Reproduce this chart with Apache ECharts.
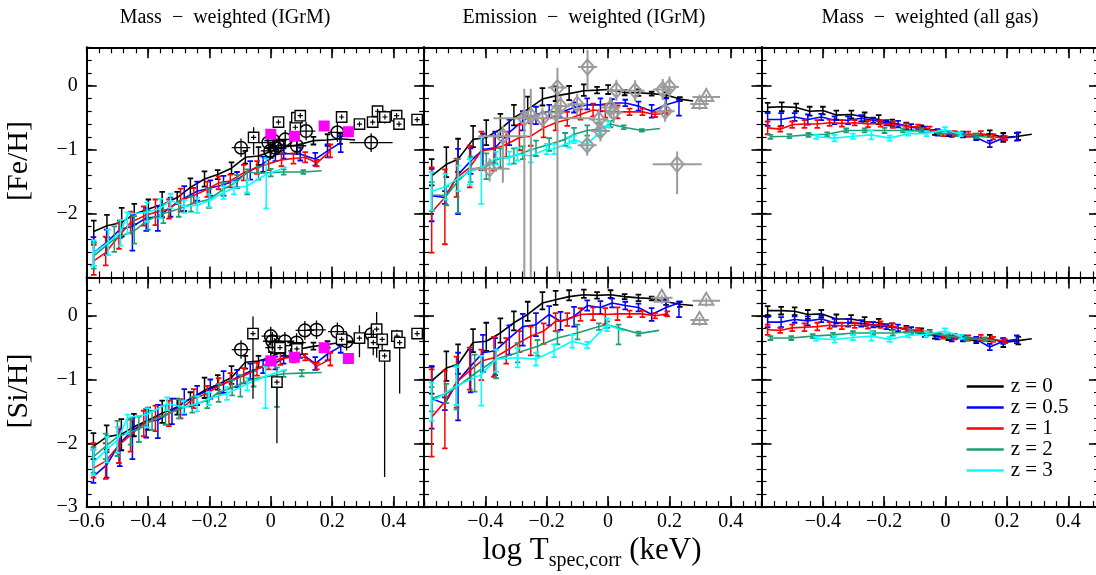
<!DOCTYPE html>
<html><head><meta charset="utf-8">
<script src="https://cdn.jsdelivr.net/npm/echarts@6/dist/echarts.min.js"></script>
<style>html,body{margin:0;padding:0;background:#fff}#c{width:1096px;height:575px}</style>
</head><body><div id="c"></div>
<script>
// ---------------- DATA ----------------
// rows: [log T, value, err_down, err_up]
const feMassZ0 = [[-0.577,-2.28,0.17,0.17],[-0.534,-2.19,0.18,0.17],[-0.486,-2.14,0.22,0.23],[-0.445,-2.01,0.16,0.16],[-0.399,-1.93,0.15,0.15],[-0.354,-1.86,0.2,0.2],[-0.305,-1.75,0.1,0.09],[-0.262,-1.59,0.14,0.14],[-0.216,-1.46,0.12,0.12],[-0.173,-1.39,0.07,0.07],[-0.128,-1.29,0.09,0.09],[-0.083,-1.12,0.1,0.1],[-0.040,-1.10,0.14,0.14],[0.000,-1.03,0.1,0.1],[0.042,-0.96,0.1,0.1],[0.085,-0.93,0.1,0.1],[0.139,-0.86,0.06,0.06],[0.185,-0.85,0.09,0.09],[0.226,-0.83,0.08,0.08],[0.275,-0.85,0,0]];
const feMassZ05 = [[-0.578,-2.62,0.2,0.25],[-0.535,-2.45,0.2,0.2],[-0.492,-2.25,0.13,0.14],[-0.451,-2.2,0.38,0.19],[-0.406,-2.07,0.2,0.16],[-0.368,-2.05,0.22,0.17],[-0.327,-1.9,0.15,0.15],[-0.282,-1.76,0.2,0.19],[-0.24,-1.65,0.15,0.15],[-0.197,-1.6,0.12,0.12],[-0.154,-1.55,0.17,0.14],[-0.11,-1.47,0.12,0.12],[-0.067,-1.33,0.14,0.15],[-0.025,-1.22,0.13,0.11],[0.015,-1.08,0.1,0.1],[0.042,-1.06,0.08,0.08],[0.096,-1.07,0.1,0.1],[0.145,-1.15,0.1,0.1],[0.185,-1.02,0.1,0.1],[0.228,-0.89,0.15,0.1]];
const feMassZ1 = [[-0.577,-2.74,0.22,0.25],[-0.538,-2.61,0.2,0.25],[-0.495,-2.35,0.2,0.2],[-0.457,-2.14,0.17,0.17],[-0.414,-2.04,0.15,0.15],[-0.376,-1.98,0.2,0.2],[-0.332,-1.93,0.15,0.15],[-0.294,-1.79,0.18,0.18],[-0.251,-1.72,0.12,0.12],[-0.207,-1.62,0.12,0.12],[-0.17,-1.52,0.1,0.1],[-0.132,-1.49,0.1,0.1],[-0.088,-1.36,0.12,0.12],[-0.045,-1.28,0.1,0.1],[-0.007,-1.22,0.1,0.1],[0.035,-1.16,0.1,0.1],[0.074,-1.14,0.08,0.08],[0.112,-1.12,0.08,0.08],[0.15,-1.21,0.05,0.05],[0.194,-1.02,0.1,0.1]];
const feMassZ2 = [[-0.577,-2.66,0.2,0.2],[-0.51,-2.4,0.2,0.2],[-0.445,-2.27,0.2,0.23],[-0.40,-2.1,0.15,0.15],[-0.35,-2.0,0.15,0.15],[-0.30,-1.93,0.12,0.12],[-0.26,-1.85,0.12,0.12],[-0.202,-1.78,0.13,0.16],[-0.154,-1.62,0.1,0.1],[-0.11,-1.5,0.1,0.1],[-0.077,-1.35,0.35,0.04],[-0.04,-1.37,0.1,0.1],[0.0,-1.36,0.06,0.06],[0.042,-1.35,0.04,0.04],[0.106,-1.35,0.03,0.03],[0.166,-1.33,0,0]];
const feMassZ3 = [[-0.577,-2.62,0.2,0.2],[-0.53,-2.45,0.2,0.2],[-0.49,-2.3,0.2,0.2],[-0.467,-2.01,0.3,0.03],[-0.403,-1.98,0.15,0.15],[-0.36,-1.92,0.15,0.15],[-0.327,-1.79,0.12,0.1],[-0.282,-1.89,0.1,0.1],[-0.24,-1.87,0.12,0.12],[-0.2,-1.8,0.1,0.1],[-0.154,-1.67,0.1,0.1],[-0.12,-1.6,0.1,0.1],[-0.077,-1.57,0.1,0.1],[-0.015,-1.39,0.53,0.25],[0.052,-1.27,0,0]];

const feEmisZ0 = [[-0.575,-1.41,0.15,0.26],[-0.527,-1.23,0.2,0.27],[-0.489,-1.15,0.2,0.32],[-0.44,-0.84,0.12,0.21],[-0.397,-0.81,0.12,0.27],[-0.351,-0.68,0.12,0.24],[-0.307,-0.5,0.12,0.2],[-0.262,-0.37,0.12,0.2],[-0.214,-0.21,0.1,0.17],[-0.171,-0.16,0.08,0.15],[-0.127,-0.125,0.1,0.12],[-0.079,-0.08,0.08,0.1],[-0.036,-0.07,0.05,0.05],[0.0,-0.06,0.07,0.07],[0.054,-0.11,0.04,0.04],[0.099,-0.11,0.05,0.05],[0.142,-0.125,0.03,0.03],[0.189,-0.146,0.04,0.04],[0.234,-0.21,0.03,0.03],[0.277,-0.24,0,0]];
const feEmisZ05 = [[-0.575,-1.72,0.4,0.42],[-0.532,-1.75,0.1,0.1],[-0.489,-1.39,0.62,0.4],[-0.448,-1.18,0.2,0.2],[-0.408,-1.0,0.3,0.25],[-0.368,-0.97,0.25,0.25],[-0.322,-0.73,0.2,0.2],[-0.278,-0.55,0.15,0.15],[-0.235,-0.45,0.15,0.12],[-0.192,-0.4,0.1,0.1],[-0.155,-0.42,0.08,0.1],[-0.111,-0.34,0.08,0.08],[-0.068,-0.3,0.07,0.1],[-0.025,-0.3,0.1,0.1],[0.013,-0.27,0.06,0.06],[0.056,-0.27,0.05,0.05],[0.099,-0.32,0.07,0.07],[0.142,-0.4,0.1,0.1],[0.189,-0.3,0.1,0.1],[0.231,-0.24,0.23,0.02]];
const feEmisZ1 = [[-0.575,-1.98,0.63,0.7],[-0.532,-1.75,0.73,0.44],[-0.494,-1.44,0.3,0.3],[-0.451,-1.28,0.31,0.34],[-0.413,-1.02,0.3,0.3],[-0.372,-0.99,0.34,0.2],[-0.332,-0.92,0.2,0.2],[-0.289,-0.81,0.2,0.2],[-0.252,-0.79,0.15,0.2],[-0.21,-0.66,0.15,0.15],[-0.171,-0.58,0.12,0.1],[-0.133,-0.53,0.1,0.12],[-0.09,-0.45,0.08,0.08],[-0.049,-0.38,0.1,0.1],[-0.009,-0.4,0.1,0.1],[0.031,-0.41,0.1,0.1],[0.07,-0.41,0.05,0.05],[0.112,-0.41,0.05,0.05],[0.153,-0.45,0.04,0.04],[0.193,-0.42,0.03,0.03]];
const feEmisZ2 = [[-0.575,-1.71,0.25,0.2],[-0.527,-1.72,0.15,0.15],[-0.489,-1.49,0.5,0.34],[-0.448,-1.31,0.2,0.2],[-0.397,-1.26,0.2,0.2],[-0.351,-1.13,0.15,0.15],[-0.307,-1.1,0.12,0.12],[-0.278,-1.05,0.1,0.1],[-0.235,-0.98,0.12,0.12],[-0.192,-0.92,0.1,0.1],[-0.14,-0.84,0.1,0.1],[-0.111,-0.76,0.1,0.1],[-0.068,-0.7,0.08,0.08],[-0.03,-0.68,0.1,0.1],[0.008,-0.6,0.05,0.05],[0.051,-0.65,0.03,0.03],[0.11,-0.7,0.02,0.02],[0.169,-0.67,0,0]];
const feEmisZ3 = [[-0.575,-1.65,0.3,0.3],[-0.53,-1.58,0.2,0.2],[-0.489,-1.45,0.2,0.2],[-0.451,-1.35,0.2,0.2],[-0.413,-1.28,0.57,0.47],[-0.365,-1.13,0.1,0.1],[-0.322,-1.13,0.1,0.1],[-0.295,-1.07,0.1,0.1],[-0.252,-1.1,0.1,0.1],[-0.2,-0.99,0.08,0.08],[-0.176,-0.99,0.08,0.08],[-0.127,-0.89,0.08,0.08],[-0.111,-0.84,0.06,0.06],[-0.068,-0.92,0.06,0.06],[-0.025,-0.71,0.05,0.05],[0.0,-0.6,0.05,0.05]];

// rows: [log T, value, err]
const feAllZ0 = [[-0.58,-0.34,0.07],[-0.534,-0.33,0.07],[-0.487,-0.34,0.06],[-0.443,-0.4,0.07],[-0.4,-0.39,0.06],[-0.356,-0.46,0.07],[-0.307,-0.45,0.06],[-0.264,-0.49,0.07],[-0.218,-0.53,0.07],[-0.174,-0.58,0.05],[-0.128,-0.63,0.05],[-0.079,-0.66,0.04],[-0.035,-0.73,0.04],[0.009,-0.75,0.04],[0.057,-0.76,0.04],[0.1,-0.79,0.04],[0.144,-0.75,0.05],[0.188,-0.81,0.07],[0.237,-0.79,0.06],[0.281,-0.76,0]];
const feAllZ05 = [[-0.58,-0.53,0.1],[-0.536,-0.53,0.1],[-0.492,-0.49,0.06],[-0.449,-0.53,0.08],[-0.405,-0.49,0.05],[-0.362,-0.54,0.06],[-0.318,-0.54,0.06],[-0.275,-0.51,0.05],[-0.236,-0.54,0.04],[-0.193,-0.58,0.04],[-0.155,-0.6,0.05],[-0.112,-0.65,0.05],[-0.068,-0.68,0.04],[-0.026,-0.73,0.05],[0.02,-0.76,0.04],[0.057,-0.77,0.04],[0.1,-0.81,0.04],[0.144,-0.91,0.05],[0.188,-0.82,0.04],[0.232,-0.8,0.06]];
const feAllZ1 = [[-0.58,-0.66,0.1],[-0.539,-0.68,0.04],[-0.5,-0.61,0.05],[-0.46,-0.6,0.06],[-0.418,-0.6,0.06],[-0.378,-0.58,0.05],[-0.338,-0.59,0.05],[-0.296,-0.58,0.04],[-0.253,-0.6,0.05],[-0.212,-0.59,0.05],[-0.172,-0.61,0.05],[-0.128,-0.63,0.04],[-0.09,-0.65,0.04],[-0.052,-0.68,0.04],[-0.008,-0.75,0.04],[0.03,-0.75,0.04],[0.074,-0.76,0.04],[0.115,-0.75,0.04],[0.155,-0.8,0.04],[0.194,-0.82,0.03]];
const feAllZ2 = [[-0.571,-0.8,0.03],[-0.509,-0.79,0.03],[-0.447,-0.77,0.03],[-0.386,-0.76,0.03],[-0.324,-0.7,0.03],[-0.264,-0.7,0.03],[-0.199,-0.7,0.04],[-0.139,-0.7,0.03],[-0.079,-0.71,0.03],[-0.019,-0.73,0.03],[0.041,-0.76,0.03],[0.1,-0.79,0.03],[0.155,-0.81,0]];
const feAllZ3 = [[-0.422,-0.8,0.03],[-0.362,-0.82,0.05],[-0.302,-0.79,0.04],[-0.242,-0.77,0.07],[-0.182,-0.82,0.04],[-0.122,-0.75,0.03],[-0.062,-0.75,0.04],[-0.002,-0.69,0.04],[0.05,-0.76,0.03]];

const siMassZ0 = [[-0.578,-2.05,0.2,0.21],[-0.535,-1.9,0.2,0.18],[-0.487,-1.86,0.25,0.24],[-0.446,-1.74,0.15,0.2],[-0.4,-1.64,0.15,0.2],[-0.354,-1.53,0.15,0.2],[-0.305,-1.43,0.12,0.13],[-0.262,-1.3,0.12,0.1],[-0.216,-1.17,0.12,0.2],[-0.173,-1.08,0.08,0.15],[-0.128,-0.97,0.1,0.18],[-0.083,-0.73,0.1,0.1],[-0.04,-0.71,0.1,0.08],[0.0,-0.65,0.08,0.08],[0.042,-0.55,0.08,0.08],[0.085,-0.53,0.08,0.08],[0.139,-0.48,0.05,0.06],[0.185,-0.45,0.05,0.05],[0.226,-0.42,0.05,0.05],[0.275,-0.42,0,0]];
const siMassZ05 = [[-0.578,-2.52,0.1,0.42],[-0.535,-2.34,0.2,0.2],[-0.492,-2.0,0.36,0.23],[-0.451,-1.8,0.45,0.2],[-0.406,-1.66,0.25,0.2],[-0.368,-1.64,0.28,0.24],[-0.322,-1.5,0.2,0.2],[-0.282,-1.35,0.2,0.2],[-0.24,-1.25,0.15,0.15],[-0.197,-1.15,0.15,0.15],[-0.154,-1.07,0.14,0.2],[-0.11,-0.97,0.15,0.12],[-0.067,-0.87,0.12,0.12],[-0.025,-0.8,0.1,0.1],[0.015,-0.74,0.1,0.1],[0.042,-0.67,0.08,0.08],[0.096,-0.58,0.08,0.08],[0.145,-0.75,0.1,0.1],[0.185,-0.6,0.1,0.1],[0.228,-0.48,0.1,0.1]];
const siMassZ1 = [[-0.578,-2.39,0.15,0.39],[-0.538,-2.28,0.28,0.28],[-0.495,-2.03,0.28,0.28],[-0.457,-1.87,0.26,0.24],[-0.414,-1.69,0.2,0.2],[-0.376,-1.61,0.2,0.2],[-0.332,-1.53,0.2,0.2],[-0.294,-1.46,0.15,0.15],[-0.251,-1.3,0.15,0.15],[-0.207,-1.22,0.12,0.12],[-0.17,-1.1,0.12,0.12],[-0.132,-1.02,0.12,0.12],[-0.088,-0.94,0.12,0.12],[-0.045,-0.84,0.1,0.1],[-0.007,-0.74,0.1,0.1],[0.031,-0.67,0.1,0.1],[0.074,-0.65,0.08,0.08],[0.112,-0.65,0.05,0.05],[0.15,-0.79,0.05,0.05],[0.194,-0.68,0.1,0.1]];
const siMassZ2 = [[-0.578,-2.21,0.25,0.15],[-0.538,-2.05,0.2,0.2],[-0.5,-1.9,0.3,0.25],[-0.457,-1.82,0.2,0.2],[-0.43,-1.78,0.2,0.2],[-0.387,-1.64,0.15,0.15],[-0.343,-1.56,0.15,0.15],[-0.3,-1.46,0.15,0.15],[-0.256,-1.4,0.12,0.12],[-0.207,-1.33,0.12,0.12],[-0.17,-1.2,0.15,0.13],[-0.126,-1.13,0.12,0.12],[-0.099,-1.07,0.2,0.14],[-0.056,-0.99,0.12,0.12],[0.02,-0.93,0.5,0.12],[0.042,-0.91,0.05,0.05],[0.101,-0.9,0.05,0.05],[0.166,-0.89,0,0]];
const siMassZ3 = [[-0.578,-2.3,0.2,0.2],[-0.535,-2.1,0.2,0.2],[-0.5,-1.95,0.2,0.2],[-0.467,-1.6,0.25,0.05],[-0.403,-1.55,0.2,0.1],[-0.338,-1.38,0.1,0.1],[-0.284,-1.43,0.1,0.1],[-0.24,-1.38,0.12,0.12],[-0.202,-1.3,0.1,0.1],[-0.143,-1.22,0.1,0.1],[-0.077,-1.07,0.1,0.1],[-0.017,-0.95,0.5,0.15],[0.053,-0.84,0,0]];

const siEmisZ0 = [[-0.575,-1.02,0.2,0.23],[-0.527,-0.82,0.2,0.26],[-0.489,-0.76,0.15,0.31],[-0.44,-0.42,0.15,0.21],[-0.397,-0.4,0.15,0.29],[-0.351,-0.27,0.15,0.23],[-0.307,-0.11,0.12,0.18],[-0.262,0.02,0.1,0.2],[-0.214,0.2,0.1,0.17],[-0.171,0.25,0.08,0.14],[-0.127,0.3,0.06,0.1],[-0.079,0.33,0.05,0.08],[-0.036,0.32,0.05,0.05],[0.008,0.33,0.05,0.07],[0.054,0.3,0.04,0.04],[0.099,0.28,0.05,0.05],[0.142,0.27,0.03,0.03],[0.189,0.22,0.05,0.05],[0.234,0.18,0.04,0.04],[0.277,0.16,0,0]];
const siEmisZ05 = [[-0.575,-1.3,0.47,0.5],[-0.532,-1.38,0.1,0.1],[-0.489,-1.02,0.62,0.44],[-0.448,-0.79,0.41,0.26],[-0.408,-0.58,0.3,0.28],[-0.368,-0.55,0.38,0.2],[-0.322,-0.35,0.26,0.2],[-0.278,-0.17,0.3,0.2],[-0.235,-0.14,0.18,0.18],[-0.192,0.02,0.17,0.13],[-0.155,-0.09,0.13,0.15],[-0.111,-0.01,0.16,0.15],[-0.068,0.16,0.08,0.08],[-0.025,0.13,0.1,0.1],[0.013,0.2,0.07,0.07],[0.056,0.16,0.06,0.06],[0.099,0.13,0.06,0.06],[0.142,0.02,0.1,0.1],[0.189,0.13,0.12,0.12],[0.231,0.2,0.22,0.02]];
const siEmisZ1 = [[-0.575,-1.59,0.62,0.75],[-0.532,-1.35,0.73,0.49],[-0.494,-1.04,0.4,0.4],[-0.451,-0.86,0.3,0.36],[-0.413,-0.71,0.3,0.18],[-0.372,-0.66,0.3,0.33],[-0.332,-0.55,0.2,0.2],[-0.289,-0.42,0.15,0.18],[-0.252,-0.32,0.3,0.15],[-0.21,-0.24,0.2,0.12],[-0.171,-0.09,0.15,0.13],[-0.133,-0.06,0.1,0.1],[-0.09,0.02,0.1,0.1],[-0.049,0.03,0.1,0.1],[-0.009,0.02,0.15,0.1],[0.031,0.03,0.1,0.1],[0.07,0.03,0.05,0.05],[0.112,0.03,0.05,0.05],[0.153,0.0,0.04,0.04],[0.193,0.03,0.04,0.04]];
const siEmisZ2 = [[-0.575,-1.3,0.2,0.18],[-0.527,-1.22,0.15,0.15],[-0.494,-1.12,0.35,0.35],[-0.435,-0.91,0.28,0.3],[-0.365,-0.68,0.3,0.15],[-0.295,-0.58,0.15,0.15],[-0.23,-0.48,0.15,0.1],[-0.165,-0.35,0.1,0.1],[-0.1,-0.27,0.1,0.13],[-0.03,-0.17,0.05,0.05],[-0.003,-0.14,0.05,0.05],[0.034,-0.19,0.26,0.05],[0.099,-0.28,0.03,0.03],[0.166,-0.23,0,0]];
const siEmisZ3 = [[-0.575,-1.35,0.3,0.3],[-0.494,-1.1,0.3,0.3],[-0.413,-0.92,0.49,0.29],[-0.365,-0.68,0.2,0.15],[-0.295,-0.66,0.15,0.15],[-0.235,-0.68,0.1,0.1],[-0.176,-0.55,0.1,0.1],[-0.117,-0.4,0.1,0.1],[-0.068,-0.46,0.05,0.05],[-0.003,-0.14,0.1,0.1],[0.051,-0.24,0,0]];

const siAllZ0 = [[-0.58,0.08,0.07],[-0.536,0.08,0.06],[-0.492,0.07,0.06],[-0.449,0.02,0.07],[-0.405,0.03,0.06],[-0.356,-0.05,0.07],[-0.308,-0.05,0.06],[-0.264,-0.09,0.07],[-0.218,-0.11,0.06],[-0.175,-0.17,0.05],[-0.128,-0.21,0.05],[-0.079,-0.24,0.04],[-0.035,-0.32,0.04],[0.009,-0.34,0.04],[0.057,-0.36,0.04],[0.1,-0.39,0.04],[0.144,-0.35,0.05],[0.188,-0.42,0.07],[0.237,-0.39,0.06],[0.281,-0.36,0]];
const siAllZ05 = [[-0.58,-0.1,0.08],[-0.536,-0.1,0.08],[-0.492,-0.06,0.05],[-0.449,-0.08,0.07],[-0.405,-0.05,0.05],[-0.362,-0.11,0.06],[-0.318,-0.11,0.06],[-0.275,-0.12,0.05],[-0.236,-0.14,0.04],[-0.193,-0.17,0.04],[-0.155,-0.19,0.05],[-0.112,-0.23,0.05],[-0.068,-0.29,0.04],[-0.026,-0.32,0.05],[0.02,-0.36,0.04],[0.057,-0.35,0.04],[0.1,-0.37,0.04],[0.144,-0.49,0.05],[0.188,-0.4,0.04],[0.232,-0.37,0.06]];
const siAllZ1 = [[-0.58,-0.22,0.08],[-0.539,-0.23,0.04],[-0.5,-0.19,0.05],[-0.46,-0.18,0.06],[-0.418,-0.17,0.06],[-0.378,-0.15,0.05],[-0.338,-0.16,0.05],[-0.296,-0.15,0.04],[-0.253,-0.15,0.05],[-0.212,-0.14,0.05],[-0.172,-0.17,0.05],[-0.128,-0.22,0.04],[-0.09,-0.23,0.04],[-0.052,-0.26,0.04],[-0.008,-0.32,0.04],[0.03,-0.33,0.04],[0.074,-0.35,0.04],[0.115,-0.34,0.04],[0.155,-0.37,0.04],[0.194,-0.4,0.03]];
const siAllZ2 = [[-0.571,-0.35,0.03],[-0.503,-0.35,0.03],[-0.433,-0.32,0.03],[-0.367,-0.3,0.03],[-0.302,-0.27,0.03],[-0.236,-0.27,0.03],[-0.172,-0.27,0.04],[-0.112,-0.25,0.03],[-0.052,-0.27,0.03],[0.009,-0.32,0.03],[0.068,-0.36,0.03],[0.128,-0.37,0.03],[0.161,-0.4,0]];
const siAllZ3 = [[-0.422,-0.36,0.03],[-0.362,-0.37,0.05],[-0.302,-0.34,0.04],[-0.242,-0.32,0.07],[-0.182,-0.37,0.04],[-0.122,-0.31,0.03],[-0.062,-0.29,0.04],[-0.002,-0.24,0.04],[0.052,-0.33,0.03]];

// observations
// circles: [x, y, xerr, yerr]
const feObsCircles = [[-0.097,-0.97,0.03,0.13],[-0.008,-0.89,0.02,0.05],[0.009,-0.86,0.02,0.06],[0.025,-0.94,0.02,0.06],[0.047,-0.84,0.02,0.05],[-0.002,-1.02,0.02,0.06],[0.014,-0.97,0.02,0.05],[0.085,-0.94,0.02,0.05],[0.115,-0.71,0.02,0.05],[0.217,-0.73,0.02,0.05],[0.327,-0.89,0.07,0.13]];
const siObsCircles = [[-0.097,-0.53,0.03,0.1],[0.0,-0.32,0.02,0.1],[0.005,-0.4,0.02,0.1],[0.012,-0.5,0.02,0.08],[0.046,-0.4,0.03,0.08],[0.084,-0.42,0.02,0.1],[0.111,-0.23,0.03,0.06],[0.149,-0.22,0.03,0.06],[0.217,-0.25,0.02,0.08],[0.247,-0.4,0.02,0.08],[0.328,-0.29,0.02,0.12]];
// squares: [x, y, err_down, err_up]
const feObsSquares = [[-0.056,-0.81,0.27,0.16],[0.025,-0.57,0.04,0.04],[0.08,-0.65,0.04,0.04],[0.085,-0.5,0.04,0.04],[0.096,-0.47,0.04,0.04],[0.231,-0.49,0.05,0.05],[0.289,-0.6,0.06,0.06],[0.332,-0.57,0.06,0.06],[0.348,-0.4,0.06,0.06],[0.365,-0.49,0.08,0.08],[0.372,-0.49,0.1,0.1],[0.41,-0.47,0.04,0.04],[0.418,-0.6,0.08,0.08],[0.477,-0.53,0.04,0.04]];
const siObsSquares = [[-0.058,-0.28,1.02,0.27],[0.02,-1.04,0.96,0.1],[0.03,-0.5,0.1,0.1],[0.065,-0.55,0.1,0.1],[0.085,-0.52,0.1,0.1],[0.231,-0.37,0.1,0.1],[0.289,-0.35,0.3,0.2],[0.345,-0.21,0.45,0.27],[0.334,-0.42,0.2,0.2],[0.363,-0.37,0.3,0.1],[0.371,-0.63,1.9,0.1],[0.411,-0.32,0.1,0.1],[0.42,-0.42,0.8,0.1],[0.477,-0.28,0.05,0.05]];
// magenta squares: [x, y]
const feObsMagenta = [[0.0,-0.76],[0.077,-0.79],[0.174,-0.63],[0.253,-0.72]];
const siObsMagenta = [[0.0,-0.71],[0.077,-0.65],[0.174,-0.5],[0.253,-0.67]];
// diamonds: [x, y, xerr, err_down, err_up]
const feObsDiamonds = [[-0.386,-1.3,0.065,0.2,0.1],[-0.343,-0.79,0.08,0.73,0.16],[-0.273,-0.51,0.03,3,0.46],[-0.252,-0.47,0.03,3,0.42],[-0.214,-0.51,0.16,0.05,0.05],[-0.171,-0.42,0.02,0.05,0.05],[-0.165,-0.03,0.03,3,0.31],[-0.155,-0.32,0.03,0.05,0.05],[-0.101,-0.29,0.02,0.05,0.05],[-0.067,0.29,0.02,0.35,0.27],[-0.068,-0.93,0.02,0.12,0.12],[-0.03,-0.53,0.02,0.05,0.05],[-0.025,-0.71,0.02,0.05,0.05],[0.008,-0.34,0.02,0.1,0.05],[0.018,-0.42,0.02,0.15,0.05],[0.027,-0.07,0.02,0.05,0.05],[0.088,-0.08,0.02,0.05,0.05],[0.178,-0.06,0.02,0.05,0.05],[0.2,-0.02,0.02,0.05,0.05],[0.186,-0.4,0.02,0.05,0.05],[0.225,-1.23,0.08,0.47,0.2]];
// triangles: [x, y, xerr]
const feObsTriangles = [[0.298,-0.27,0.03],[0.32,-0.16,0.045]];
const siObsTriangles = [[0.175,0.3,0.035],[0.32,0.25,0.045],[0.298,-0.05,0.03]];

const X_TICK_LABELS = [-0.6,-0.4,-0.2,0,0.2,0.4];
const Y_TICK_LABELS = [-3,-2,-1,0];
const Z_NAMES = ['z = 0','z = 0.5','z = 1','z = 2','z = 3'];
const PANEL_TITLES = ['Mass  \u2212  weighted (IGrM)','Emission  \u2212  weighted (IGrM)','Mass  \u2212  weighted (all gas)'];

// ---------------- STYLE / LAYOUT ----------------
const Z_COLORS = ['#000000','#0000ff','#ff0000','#1b9e77','#00ffff'];
const GRAY = '#9b9b9b';
const F = '"Liberation Serif","DejaVu Serif",serif';
const X_MIN=-0.6, X_MAX=0.5, Y_MIN=-3, Y_MAX=0.6;
const COL_LEFT=[86.7,424,761.5], COL_W=337.5;
const ROW_TOP=[47.3,277.5], ROW_H=[230.2,229.5];

const panels = [
  {row:0,col:0,model:[feMassZ0,feMassZ05,feMassZ1,feMassZ2,feMassZ3],circles:feObsCircles,squares:feObsSquares,magenta:feObsMagenta},
  {row:0,col:1,model:[feEmisZ0,feEmisZ05,feEmisZ1,feEmisZ2,feEmisZ3],diamonds:feObsDiamonds,triangles:feObsTriangles},
  {row:0,col:2,model:[feAllZ0,feAllZ05,feAllZ1,feAllZ2,feAllZ3]},
  {row:1,col:0,model:[siMassZ0,siMassZ05,siMassZ1,siMassZ2,siMassZ3],circles:siObsCircles,squares:siObsSquares,magenta:siObsMagenta},
  {row:1,col:1,model:[siEmisZ0,siEmisZ05,siEmisZ1,siEmisZ2,siEmisZ3],triangles:siObsTriangles},
  {row:1,col:2,model:[siAllZ0,siAllZ05,siAllZ1,siAllZ2,siAllZ3]}
];

function cl(v){return Math.max(Y_MIN,Math.min(Y_MAX,v));}
function clx(v){return Math.max(X_MIN,Math.min(X_MAX,v));}
function seg(x1,y1,x2,y2,stroke,lw){return {type:'line',shape:{x1:x1,y1:y1,x2:x2,y2:y2},style:{stroke:stroke,lineWidth:lw}};}
function fmtNum(v){const r=Math.round(v*10)/10; if(Math.abs(r)<1e-9) return '0'; return (r<0?'\u2212':'')+(Number.isInteger(r)?Math.abs(r).toString():Math.abs(r).toFixed(1));}
function norm(rows){return rows.map(r=>r.length===3?[r[0],r[1],r[2],r[2]]:r);}

function errRender(color){
  return function(p,api){
    const x=api.value(0),y=api.value(1),dn=api.value(2),up=api.value(3);
    const ch=[];
    if(dn>0||up>0){
      const hv=y+up,lv=y-dn;
      const a=api.coord([x,cl(hv)]),b=api.coord([x,cl(lv)]);
      ch.push(seg(a[0],a[1],b[0],b[1],color,1.5));
      const w=2.8;
      if(hv<=Y_MAX) ch.push(seg(a[0]-w,a[1],a[0]+w,a[1],color,1.8));
      if(lv>=Y_MIN) ch.push(seg(b[0]-w,b[1],b[0]+w,b[1],color,1.8));
    }
    return {type:'group',children:ch};
  };
}
function circleRender(p,api){
  const x=api.value(0),y=api.value(1),xe=api.value(2),ye=api.value(3);
  const c=api.coord([x,y]),l=api.coord([clx(x-xe),y]),r=api.coord([clx(x+xe),y]),t=api.coord([x,cl(y+ye)]),b=api.coord([x,cl(y-ye)]);
  const R=6.3;
  const x1=Math.min(l[0],c[0]-R-3),x2=Math.max(r[0],c[0]+R+3),y1=Math.min(t[1],c[1]-R-3),y2=Math.max(b[1],c[1]+R+3);
  return {type:'group',children:[
    {type:'circle',shape:{cx:c[0],cy:c[1],r:R},style:{fill:'none',stroke:'#000',lineWidth:1.5}},
    seg(x1,c[1],x2,c[1],'#000',1.3),seg(c[0],y1,c[0],y2,'#000',1.3)]};
}
function squareRender(p,api){
  const x=api.value(0),y=api.value(1),dn=api.value(2),up=api.value(3);
  const c=api.coord([x,y]),t=api.coord([x,cl(y+up)]),b=api.coord([x,cl(y-dn)]);
  const h=5.2,ch=[
    {type:'rect',shape:{x:c[0]-h,y:c[1]-h,width:2*h,height:2*h},style:{fill:'#fff',stroke:'#000',lineWidth:1.4}},
    seg(c[0]-2.6,c[1],c[0]+2.6,c[1],'#000',1.2),seg(c[0],c[1]-2.6,c[0],c[1]+2.6,'#000',1.2)];
  if(t[1]<c[1]-h) ch.push(seg(c[0],t[1],c[0],c[1]-h,'#000',1.3));
  if(b[1]>c[1]+h) ch.push(seg(c[0],c[1]+h,c[0],b[1],'#000',1.3));
  return {type:'group',children:ch};
}
function magentaRender(p,api){
  const c=api.coord([api.value(0),api.value(1)]),h=5.5;
  return {type:'rect',shape:{x:c[0]-h,y:c[1]-h,width:2*h,height:2*h},style:{fill:'#ff00ff',stroke:'none'}};
}
function diamondRender(p,api){
  const x=api.value(0),y=api.value(1),xe=api.value(2),dn=api.value(3),up=api.value(4);
  const c=api.coord([x,y]),l=api.coord([clx(x-xe),y]),r=api.coord([clx(x+xe),y]),t=api.coord([x,cl(y+up)]),b=api.coord([x,cl(y-dn)]);
  const hw=6.5,hh=7.5;
  const x1=Math.min(l[0],c[0]-hw-3),x2=Math.max(r[0],c[0]+hw+3),y1=Math.min(t[1],c[1]-hh-3),y2=Math.max(b[1],c[1]+hh+3);
  return {type:'group',children:[
    seg(x1,c[1],x2,c[1],GRAY,2),seg(c[0],y1,c[0],y2,GRAY,2),
    {type:'polygon',shape:{points:[[c[0],c[1]-hh],[c[0]+hw,c[1]],[c[0],c[1]+hh],[c[0]-hw,c[1]]]},style:{fill:'none',stroke:GRAY,lineWidth:2}}]};
}
function triangleRender(p,api){
  const x=api.value(0),y=api.value(1),xe=api.value(2);
  const c=api.coord([x,y]),l=api.coord([clx(x-xe),y]),r=api.coord([clx(x+xe),y]);
  return {type:'group',children:[
    seg(l[0],c[1]+1,r[0],c[1]+1,GRAY,2),seg(c[0],c[1]-2,c[0],c[1]+7,GRAY,1.6),
    {type:'polygon',shape:{points:[[c[0],c[1]-7],[c[0]+7,c[1]+5],[c[0]-7,c[1]+5]]},style:{fill:'none',stroke:GRAY,lineWidth:2}}]};
}

const grids=[],xAxes=[],yAxes=[],series=[];
panels.forEach((pn,k)=>{
  grids.push({left:COL_LEFT[pn.col],top:ROW_TOP[pn.row],width:COL_W,height:ROW_H[pn.row],outerBoundsMode:'none',containLabel:false});
  const xb={gridIndex:k,type:'value',min:X_MIN,max:X_MAX,splitLine:{show:false}};
  const lineOn={show:true,onZero:false,lineStyle:{color:'#000',width:2}};
  const lineOff={show:false,onZero:false};
  const xLab={show:pn.row===1,margin:5,fontFamily:F,fontSize:20,color:'#000',
    formatter:v=>{ if(!X_TICK_LABELS.some(t=>Math.abs(t-v)<1e-6)) return ''; if(pn.col>0&&v<-0.55) return ''; return fmtNum(v);}};
  xAxes.push(Object.assign({},xb,{position:'bottom',interval:0.2,axisLine:lineOn,axisTick:{show:true,inside:true,length:11,lineStyle:{color:'#000',width:1.6}},axisLabel:xLab}));
  xAxes.push(Object.assign({},xb,{position:'bottom',interval:0.04,axisLine:lineOff,axisTick:{show:true,inside:true,length:6,lineStyle:{color:'#000',width:1.2}},axisLabel:{show:false}}));
  xAxes.push(Object.assign({},xb,{position:'top',interval:0.2,axisLine:lineOn,axisTick:{show:true,inside:true,length:11,lineStyle:{color:'#000',width:1.6}},axisLabel:{show:false}}));
  xAxes.push(Object.assign({},xb,{position:'top',interval:0.04,axisLine:lineOff,axisTick:{show:true,inside:true,length:6,lineStyle:{color:'#000',width:1.2}},axisLabel:{show:false}}));
  const yb={gridIndex:k,type:'value',min:Y_MIN,max:Y_MAX,splitLine:{show:false}};
  const yLab={show:pn.col===0,margin:9,fontFamily:F,fontSize:20,color:'#000',
    formatter:v=>{ if(!Y_TICK_LABELS.some(t=>Math.abs(t-v)<1e-6)) return ''; if(pn.row===0&&v<-2.5) return ''; return fmtNum(v);}};
  yAxes.push(Object.assign({},yb,{position:'left',interval:1,axisLine:lineOn,axisTick:{show:true,inside:true,length:10,lineStyle:{color:'#000',width:1.6}},axisLabel:yLab}));
  yAxes.push(Object.assign({},yb,{position:'left',interval:0.2,axisLine:lineOff,axisTick:{show:true,inside:true,length:5,lineStyle:{color:'#000',width:1.2}},axisLabel:{show:false}}));
  yAxes.push(Object.assign({},yb,{position:'right',interval:1,axisLine:lineOn,axisTick:{show:true,inside:true,length:10,lineStyle:{color:'#000',width:1.6}},axisLabel:{show:false}}));
  yAxes.push(Object.assign({},yb,{position:'right',interval:0.2,axisLine:lineOff,axisTick:{show:true,inside:true,length:5,lineStyle:{color:'#000',width:1.2}},axisLabel:{show:false}}));
  const xi=4*k,yi=4*k;
  pn.model.forEach((rows,j)=>{
    const d=norm(rows);
    series.push({type:'line',name:Z_NAMES[j],xAxisIndex:xi,yAxisIndex:yi,data:d.map(r=>[r[0],r[1]]),showSymbol:false,symbol:'none',
      lineStyle:{color:Z_COLORS[j],width:1.6},itemStyle:{color:Z_COLORS[j]},z:2+j,silent:true,animation:false});
    series.push({type:'custom',name:Z_NAMES[j],xAxisIndex:xi,yAxisIndex:yi,data:d,renderItem:errRender(Z_COLORS[j]),encode:{x:0,y:1},z:2+j,silent:true,clip:true,animation:false});
  });
  if(pn.circles) series.push({type:'custom',xAxisIndex:xi,yAxisIndex:yi,data:pn.circles,renderItem:circleRender,encode:{x:0,y:1},z:10,silent:true,clip:true,animation:false});
  if(pn.squares) series.push({type:'custom',xAxisIndex:xi,yAxisIndex:yi,data:pn.squares,renderItem:squareRender,encode:{x:0,y:1},z:11,silent:true,clip:true,animation:false});
  if(pn.magenta) series.push({type:'custom',xAxisIndex:xi,yAxisIndex:yi,data:pn.magenta,renderItem:magentaRender,encode:{x:0,y:1},z:12,silent:true,clip:true,animation:false});
  if(pn.diamonds) series.push({type:'custom',xAxisIndex:xi,yAxisIndex:yi,data:pn.diamonds,renderItem:diamondRender,encode:{x:0,y:1},z:10,silent:true,clip:true,animation:false});
  if(pn.triangles) series.push({type:'custom',xAxisIndex:xi,yAxisIndex:yi,data:pn.triangles,renderItem:triangleRender,encode:{x:0,y:1},z:10,silent:true,clip:true,animation:false});
});

const TITLE_X=[225,584,930];
const graphic=[];
PANEL_TITLES.forEach((t,i)=>graphic.push({type:'text',x:TITLE_X[i],y:18,style:{text:t,font:'20px '+F,fill:'#000',align:'center',verticalAlign:'middle',textAlign:'center',textVerticalAlign:'middle'}}));
graphic.push({type:'text',x:19,y:161,rotation:Math.PI/2,style:{text:'[Fe/H]',font:'30px '+F,fill:'#000',align:'center',verticalAlign:'middle',textAlign:'center',textVerticalAlign:'middle'}});
graphic.push({type:'text',x:19,y:391,rotation:Math.PI/2,style:{text:'[Si/H]',font:'30px '+F,fill:'#000',align:'center',verticalAlign:'middle',textAlign:'center',textVerticalAlign:'middle'}});
graphic.push({type:'text',x:592,y:551,style:{text:'{a|log T}{s|spec,corr}{a| (keV)}',align:'center',verticalAlign:'middle',textAlign:'center',textVerticalAlign:'middle',
  rich:{a:{fontFamily:F,fontSize:31,lineHeight:40,fill:'#000',color:'#000'},s:{fontFamily:F,fontSize:20,lineHeight:20,verticalAlign:'bottom',fill:'#000',color:'#000'}}}});

const chart=echarts.init(document.getElementById('c'),null,{renderer:'canvas'});
chart.setOption({
  animation:false,backgroundColor:'#fff',
  grid:grids,xAxis:xAxes,yAxis:yAxes,series:series,graphic:graphic,
  legend:{data:Z_NAMES,orient:'vertical',left:961.7,top:371,icon:'rect',itemWidth:37,itemHeight:2.5,itemGap:0,
    textStyle:{fontFamily:F,fontSize:21,color:'#000',lineHeight:21,padding:[0,0,0,2]},selectedMode:false}
});
</script></body></html>
